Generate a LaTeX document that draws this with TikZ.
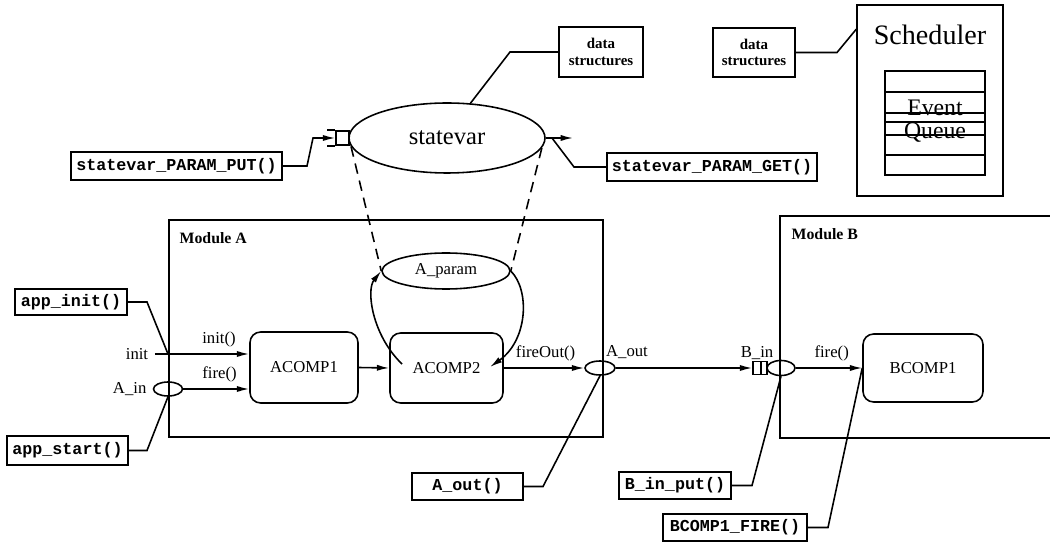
\documentclass[tikz,border=0pt]{standalone}
\usepackage{fontspec}
\setmainfont{Liberation Serif}
\setmonofont{Liberation Mono}
\usetikzlibrary{shapes.geometric,arrows.meta}

\tikzset{
  fnbox/.style={draw, rectangle, inner sep=0pt, font=\fontsize{9.5}{11}\selectfont\ttfamily\bfseries},
  dsbox/.style={draw, rectangle, inner sep=0pt, align=center, font=\fontsize{8.5}{9.5}\selectfont\bfseries},
  comp/.style={draw, rectangle, rounded corners=6pt, inner sep=0pt},
  port/.style={draw, ellipse, inner sep=0pt},
  modlabel/.style={anchor=west, font=\fontsize{9}{11}\selectfont\bfseries},
  qtext/.style={inner sep=0pt, font=\fontsize{13.5}{14}\selectfont},
  conn/.style={-{Latex[length=7pt,width=3.5pt]}},
}

\begin{document}
\begin{tikzpicture}[x=0.02cm, y=-0.02cm, line width=0.9pt, font=\fontsize{9.5}{11}\selectfont]
  \useasboundingbox (0,0) rectangle (1050,543);

  % Shared state variable
  \node[port, minimum width=3.92cm, minimum height=1.4cm, font=\fontsize{14}{16}\selectfont] (sv) at (447,138) {statevar};
  \node[dsbox, minimum width=1.68cm, minimum height=1.0cm] (ds1) at (601,52) {data\\structures};
  \draw (sv.56) -- (510,52) -- (ds1.west);

  % put and get access
  \node[fnbox, minimum width=4.22cm, minimum height=0.56cm] (putfn) at (176.5,166) {statevar\_PARAM\_PUT()};
  \node[draw, inner sep=0pt, minimum width=0.26cm, minimum height=0.28cm] (putport) at (342.5,138) {};
  \draw (putport.north west) -- ++(-8,0) (putport.south west) -- ++(-8,0);
  \draw[conn] (putfn.east) -- (307,166) -- (313,138) -- (putport.west);

  \node[fnbox, minimum width=4.2cm, minimum height=0.56cm] (getfn) at (712,167) {statevar\_PARAM\_GET()};
  \coordinate (getend) at (573,138);
  \coordinate (gettap) at (552,138);
  \draw[conn] (sv.east) -- (getend);
  \draw (gettap) -- (574,167) -- (getfn.west);

  % Scheduler with its event queue
  \node[dsbox, minimum width=1.64cm, minimum height=0.98cm] (ds2) at (754,52.5) {data\\structures};
  \node[draw, minimum width=2.92cm, minimum height=3.82cm] (sched) at (930,100.5) {};
  \node[font=\fontsize{16}{18}\selectfont] (schedlbl) at (930,35) {Scheduler};
  \draw (ds2.east) -- (837,52.5) -- (sched.136);
  \node[draw, minimum width=2cm, minimum height=2.08cm] (queue) at (935,123) {};
  \foreach \y in {92,113,122,135,155}
    \draw (885,\y) -- (985,\y);
  \node[qtext] (evt) at (935,108) {Event};
  \node[qtext] (que) at (935,133) {Queue};

  % Module A
  \node[draw, minimum width=8.68cm, minimum height=4.34cm] (modA) at (386,328.5) {};
  \node[modlabel] (modAlbl) at (173,238) {Module A};
  \node[comp, minimum width=2.16cm, minimum height=1.42cm] (acomp1) at (304,367.5) {ACOMP1};
  \node[comp, minimum width=2.26cm, minimum height=1.4cm] (acomp2) at (446.5,368) {ACOMP2};
  \draw[conn] (acomp1.east) -- (acomp2.west);

  \node[port, minimum width=2.56cm, minimum height=0.72cm] (aparam) at (446,271) {A\_param};
  \draw[dash pattern=on 6pt off 4pt] (sv.185) -- (aparam.west);
  \draw[dash pattern=on 6pt off 4pt] (sv.354) -- (aparam.east);
  \coordinate (a2l) at (402,364);
  \coordinate (a2r) at (490,367);
  \draw[conn] (a2l) .. controls (372,335) and (366,290) .. (aparam.west);
  \draw[conn] (aparam.east) .. controls (530,290) and (528,340) .. (a2r);

  % inputs of module A
  \node[fnbox, minimum width=2.24cm, minimum height=0.52cm] (appinit) at (71,302) {app\_init()};
  \node (initlbl) at (137,354) {init};
  \coordinate (initin) at (168,354);
  \draw (appinit.east) -- (147,302) -- (initin);
  \draw[conn] (initlbl.east) -- (initlbl.east -| acomp1.west) node[above, pos=0.68] (initfn) {init()};

  \node[port, minimum width=0.58cm, minimum height=0.28cm] (ain) at (168,389) {};
  \node[anchor=east] (ainlbl) at (153,389) {A\_in};
  \draw[conn] (ain.east) -- (ain.east -| acomp1.west) node[above, pos=0.55] (firea) {fire()};
  \node[fnbox, minimum width=2.42cm, minimum height=0.58cm] (appstart) at (67.5,450.5) {app\_start()};
  \draw (appstart.east) -- (147,450.5) -- (ain.south);

  % output of module A
  \node[port, minimum width=0.6cm, minimum height=0.28cm] (aout) at (600,368) {};
  \draw[conn] (acomp2.east) -- (aout.west) node[above, pos=0.52] (fireout) {fireOut()};
  \node (aoutlbl) at (627,352) {A\_out};
  \node[fnbox, minimum width=2.22cm, minimum height=0.54cm] (aoutfn) at (467.5,486.5) {A\_out()};
  \draw (aoutfn.east) -- (543,486.5) -- (aout.south);

  % Module B
  \draw (1050,216) -- (780,216) -- (780,438) -- (1050,438);
  \node[modlabel] (modBlbl) at (785,234) {Module B};
  \node[draw, inner sep=0pt, minimum width=0.28cm, minimum height=0.26cm] (binport) at (760,368) {};
  \draw (761,361.5) -- (761,374.5);
  \node[port, minimum width=0.56cm, minimum height=0.3cm] (bin) at (781,368) {};
  \draw[conn] (aout.east) -- (binport.west);
  \node (binlbl) at (757,353) {B\_in};
  \node[comp, minimum width=2.4cm, minimum height=1.36cm] (bcomp1) at (923,368) {BCOMP1};
  \draw[conn] (bin.east) -- (bcomp1.west) node[above, pos=0.54] (fireb) {fire()};

  \node[fnbox, minimum width=2.24cm, minimum height=0.54cm] (binput) at (675,485.5) {B\_in\_put()};
  \draw (binput.east) -- (752,485.5) -- (bin.south);
  \node[fnbox, minimum width=2.88cm, minimum height=0.54cm] (bfire) at (735,527.5) {BCOMP1\_FIRE()};
  \draw (bfire.east) -- (828,527.5) -- (bcomp1.west);
\end{tikzpicture}
\end{document}
